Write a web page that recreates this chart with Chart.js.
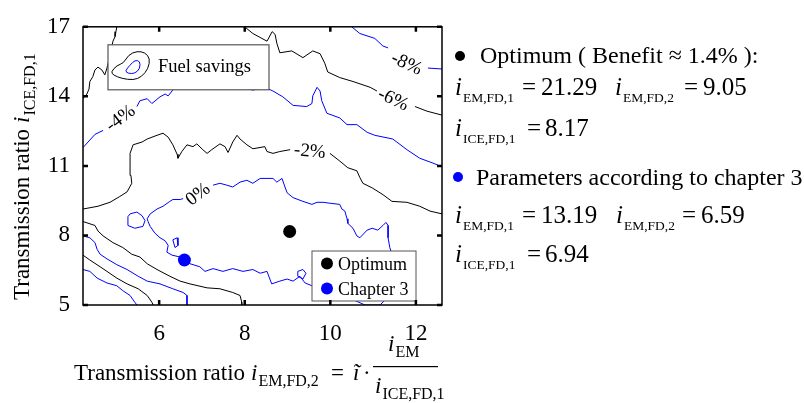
<!DOCTYPE html>
<html lang="en">
<head>
<meta charset="UTF-8">
<title>Fuel savings map</title>
<script src="https://cdn.jsdelivr.net/npm/chart.js"></script>
<style>
  html, body { margin: 0; padding: 0; background: #fff; }
  #wrap { position: relative; width: 804px; height: 403px; }
</style>
</head>
<body>
<div id="wrap"><canvas id="chart"></canvas></div>
<script>
// ticks
const xTicks = [6, 8, 10, 12];
const yTicks = [5, 8, 11, 14, 17];

// contour lines: [i_EM,FD,2, i_ICE,FD,1], null = gap for the label
const zeroMain = [[7.26,10.17],[7.42,10.25],[7.58,10.17],[7.72,10.09],[7.89,10.30],[8.05,10.38],[8.19,10.25],[8.36,10.46],[8.66,10.46],[8.75,10.30],[8.87,10.46],[8.94,10.09],[8.99,9.84],[9.13,9.63],[9.36,9.47],[9.57,9.34],[9.69,9.43],[9.83,9.43],[9.99,9.39],[10.22,9.34],[10.27,9.14],[10.34,9.05],[10.39,8.72],[10.41,8.52],[10.53,8.31],[10.62,7.98],[10.69,7.90],[10.86,8.23],[10.98,8.31],[11.11,8.23],[11.23,8.43],[11.30,8.56],[11.35,8.43],[11.35,7.90],[11.39,7.48],[11.44,7.19],[11.46,6.45],[11.39,5.41],[11.16,5.0],[10.81,5.0],[10.46,5.29],[9.99,5.62],[9.57,5.83],[9.41,5.95],[9.29,6.24],[9.13,6.03],[8.99,6.12],[8.82,6.03],[8.63,5.91],[8.52,6.45],[8.36,6.37],[8.19,6.53],[7.96,6.45],[7.72,6.57],[7.49,6.45],[7.26,6.57],[7.07,6.45],[6.95,6.65],[6.72,6.78],[6.49,7.07],[6.30,7.15],[6.18,7.28],[6.21,7.57],[6.14,7.77],[6.02,7.90],[5.90,8.10],[5.79,8.39],[5.74,8.60],[5.72,8.72],[5.79,8.93],[5.95,9.14],[6.09,9.26],[6.25,9.47],[6.32,9.55],[6.49,9.55],[6.56,9.59]];
const zeroLoopA = [[5.27,8.81],[5.32,8.93],[5.48,9.01],[5.60,8.85],[5.67,8.64],[5.62,8.39],[5.43,8.31],[5.27,8.43],[5.27,8.81]];
const zeroLoopB = [[6.32,7.81],[6.42,7.90],[6.44,7.57],[6.37,7.48],[6.32,7.81]];
const zeroLoopC = [[9.24,6.45],[9.36,6.53],[9.43,6.37],[9.36,6.12],[9.24,6.24],[9.24,6.45]];
const minus2Top = [[4.22,9.14],[4.57,9.26],[4.85,9.43],[5.08,9.68],[5.25,9.88],[5.36,10.25],[5.34,10.59],[5.32,11.21],[5.32,11.54],[5.39,11.91],[5.60,12.03],[5.72,12.16],[5.95,12.32],[6.09,12.41],[6.21,12.24],[6.32,11.91],[6.42,11.50],[6.44,11.33],[6.53,11.62],[6.65,11.91],[6.79,11.83],[6.88,11.95],[7.02,11.70],[7.12,11.54],[7.23,11.70],[7.42,11.95],[7.54,11.83],[7.61,11.58],[7.72,12.03],[7.82,12.32],[7.89,12.16],[8.05,11.91],[8.19,11.74],[8.47,11.83],[8.52,11.62],[8.66,11.54],[8.82,11.62],[9.06,11.70],null,[9.99,11.54],[10.22,11.21],[10.41,10.92],[10.62,10.79],[10.69,10.50],[10.76,10.25],[10.98,10.05],[11.23,9.76],[11.44,9.47],[11.79,9.43],[12.09,9.26],[12.33,9.05],[12.61,8.93]];
const minus2Low = [[4.22,8.60],[4.50,8.43],[4.57,8.19],[4.69,7.98],[4.92,7.69],[5.15,7.48],[5.36,7.19],[5.55,7.07],[5.72,6.78],[5.95,6.53],[6.25,6.24],[6.49,6.03],[6.72,5.91],[7.12,5.74],[7.42,5.70],[7.72,5.54],[7.89,5.41],[7.93,5.12],[7.93,5.0]];
const minus4Top = [[4.22,11.79],[4.50,12.36],[4.69,12.53],null,[5.48,13.56],[5.55,13.81],[5.72,13.90],[5.83,13.69],[6.02,13.98],[6.14,14.10],[6.21,14.02],[6.37,14.39],[6.90,14.45],[7.50,14.45],[7.93,14.39],[8.19,14.27],[8.47,14.39],[8.66,14.23],[8.89,13.98],[9.13,13.61],[9.45,13.56],[9.57,13.69],[9.59,14.02],[9.69,14.39],[9.76,14.23],[9.80,13.81],[9.92,13.27],[10.22,13.07],[10.39,12.78],[10.62,12.78],[10.86,12.45],[11.04,12.32],[11.46,12.16],[11.79,11.70],[12.09,11.33],[12.40,11.12],[12.61,10.96]];
const minus4Low = [[4.22,7.98],[4.38,7.90],[4.50,7.69],[4.55,7.40],[4.62,7.19],[4.78,6.99],[5.01,6.74],[5.25,6.53],[5.51,6.24],[5.72,6.03],[6.02,5.91],[6.32,5.70],[6.56,5.54],[6.65,5.41],[6.65,5.12],[6.65,5.0]];
const minus6Right = [[8.0,17.0],[8.05,16.92],[8.19,16.71],[8.36,16.54],[8.52,16.38],[8.64,16.79],[8.71,16.67],[8.75,16.29],[8.82,15.88],[9.10,15.96],[9.36,15.67],[9.59,15.96],[9.76,15.84],[9.87,15.43],[9.94,15.05],[10.22,14.81],[10.53,14.64],[10.93,14.39],[11.09,14.23],null,[11.98,13.56],[12.26,13.36],[12.61,13.19]];
const minus6Left = [[5.01,17.0],[4.99,16.79],[4.97,16.58],[4.92,16.38],[4.85,15.76],[4.78,15.22],[4.73,14.93],[4.66,15.14],[4.57,15.26],[4.50,15.14],[4.45,14.85],[4.38,14.64],[4.36,14.31],[4.31,14.10],[4.22,13.90]];
const minus6Low = [[4.22,7.15],[4.38,6.94],[4.62,6.65],[4.78,6.45],[5.01,6.16],[5.25,5.91],[5.51,5.70],[5.72,5.41],[5.83,5.12],[5.86,5.0]];
const minus8Top = [[10.50,17.0],[10.69,16.71],[11.04,16.50],[11.23,16.17],[11.35,16.09],null,[12.28,15.22],[12.61,15.18]];
const minus8Low = [[4.22,6.53],[4.38,6.45],[4.55,6.16],[4.78,5.95],[5.01,5.83],[5.15,5.62],[5.32,5.41],[5.43,5.12],[5.48,5.0]];

// contour labels
const labelText = ['0%', '-2%', '-4%', '-6%', '-8%'];
const labelX = [6.91, 9.52, 5.10, 11.47, 11.78];
const labelY = [9.76, 11.62, 13.04, 13.85, 15.40];

// the two marked designs
const optimum = [9.05, 8.17];
const chapter3 = [6.59, 6.94];

const BLUE = '#0000ff';
const SERIF = '"Liberation Serif", "Times New Roman", serif';

const toPts = arr => arr.map(p => p ? { x: p[0], y: p[1] } : { x: NaN, y: NaN });
const contour = (arr, color) => ({
    data: toPts(arr), showLine: true, borderColor: color, borderWidth: 1,
    pointRadius: 0, pointHoverRadius: 0, fill: false, spanGaps: false
});

const datasets = [
    contour(zeroMain, BLUE), contour(zeroLoopA, BLUE), contour(zeroLoopB, BLUE), contour(zeroLoopC, BLUE),
    contour(minus2Top, '#000'), contour(minus2Low, '#000'),
    contour(minus4Top, BLUE), contour(minus4Low, BLUE),
    contour(minus6Right, '#000'), contour(minus6Left, '#000'), contour(minus6Low, '#000'),
    contour(minus8Top, BLUE), contour(minus8Low, BLUE),
    { data: [{ x: optimum[0], y: optimum[1] }], pointRadius: 6.5, backgroundColor: '#000', borderWidth: 0 },
    { data: [{ x: chapter3[0], y: chapter3[1] }], pointRadius: 6.5, backgroundColor: BLUE, borderWidth: 0 }
];

// text helpers
function txt(ctx, s, x, y, size, italic) {
    ctx.font = (italic ? 'italic ' : '') + size + 'px ' + SERIF;
    ctx.fillText(s, x, y);
    return x + ctx.measureText(s).width;
}
function iSub(ctx, x, y, sub, size, subSize) {
    let cx = txt(ctx, 'i', x, y, size, true);
    return txt(ctx, sub, cx + 1, y + Math.round(size * 0.26), subSize, false);
}

const decor = {
    id: 'decor',
    afterDatasetsDraw(chart) {
        const ctx = chart.ctx, a = chart.chartArea;
        const xs = chart.scales.x, ys = chart.scales.y;
        ctx.save();
        ctx.fillStyle = '#000';
        ctx.textAlign = 'center';
        ctx.textBaseline = 'middle';
        const rot = [-38, 5, -37, 25, 25];
        labelText.forEach((t, i) => {
            ctx.save();
            ctx.translate(xs.getPixelForValue(labelX[i]), ys.getPixelForValue(labelY[i]));
            ctx.rotate(rot[i] * Math.PI / 180);
            ctx.font = '19px ' + SERIF;
            ctx.fillText(t, 0, 0);
            ctx.restore();
        });

        // "Fuel savings" box
        const bx = a.left + 25, by = a.top + 18;
        ctx.fillStyle = '#fff';
        ctx.fillRect(bx, by, 161, 45);
        ctx.strokeStyle = '#555';
        ctx.lineWidth = 1.2;
        ctx.strokeRect(bx, by, 161, 45);
        const blob = (pts, color) => {
            ctx.beginPath();
            const n = pts.length;
            const mid = (p, q) => [(p[0] + q[0]) / 2, (p[1] + q[1]) / 2];
            let m = mid(pts[n - 1], pts[0]);
            ctx.moveTo(bx + m[0], by + m[1]);
            for (let i = 0; i < n; i++) {
                const p = pts[i], q = mid(pts[i], pts[(i + 1) % n]);
                ctx.quadraticCurveTo(bx + p[0], by + p[1], bx + q[0], by + q[1]);
            }
            ctx.strokeStyle = color;
            ctx.lineWidth = 1;
            ctx.stroke();
        };
        blob([[3,27],[9,20.5],[15.5,18.5],[20.5,10],[29,6.3],[37,7.7],[42,13.7],[40.3,23.7],[33.7,32],[25.3,35.3],[13.7,33.7],[5.3,30.3]], '#000');
        blob([[17,26.3],[22,20.3],[27,15.3],[32,16.3],[32,23.7],[27,28.7],[20.3,28.7]], BLUE);
        ctx.fillStyle = '#000';
        ctx.textAlign = 'left';
        ctx.textBaseline = 'alphabetic';
        txt(ctx, 'Fuel savings', bx + 50, by + 27, 18.5);

        // marker legend box
        const lx = a.right - 130, ly = a.bottom - 54;
        ctx.fillStyle = '#fff';
        ctx.fillRect(lx, ly, 104, 50);
        ctx.strokeStyle = '#555';
        ctx.strokeRect(lx, ly, 104, 50);
        ctx.fillStyle = '#000';
        ctx.beginPath(); ctx.arc(lx + 15, ly + 12.5, 6, 0, Math.PI * 2); ctx.fill();
        ctx.fillStyle = BLUE;
        ctx.beginPath(); ctx.arc(lx + 15, ly + 37.5, 6, 0, Math.PI * 2); ctx.fill();
        ctx.fillStyle = '#000';
        txt(ctx, 'Optimum', lx + 26, ly + 19, 18);
        txt(ctx, 'Chapter 3', lx + 26, ly + 44, 18);

        // frame and inward ticks
        ctx.strokeStyle = '#000';
        ctx.lineWidth = 1.5;
        ctx.strokeRect(a.left, a.top, a.right - a.left, a.bottom - a.top);
        ctx.lineWidth = 2.5;
        ctx.beginPath();
        xTicks.forEach(v => {
            const px = xs.getPixelForValue(v);
            ctx.moveTo(px, a.bottom); ctx.lineTo(px, a.bottom - 5);
            ctx.moveTo(px, a.top); ctx.lineTo(px, a.top + 5);
        });
        yTicks.forEach(v => {
            const py = ys.getPixelForValue(v);
            ctx.moveTo(a.left, py); ctx.lineTo(a.left + 5, py);
            ctx.moveTo(a.right, py); ctx.lineTo(a.right - 5, py);
        });
        ctx.stroke();
        ctx.restore();
    },
    afterDraw(chart) {
        const ctx = chart.ctx;
        ctx.save();
        ctx.fillStyle = '#000';
        ctx.textAlign = 'left';
        ctx.textBaseline = 'alphabetic';

        // x axis title
        txt(ctx, 'Transmission ratio', 74, 380, 23);
        iSub(ctx, 251, 380, 'EM,FD,2', 23, 16);
        txt(ctx, '=', 331, 380, 23);
        txt(ctx, 'ĩ', 353, 380, 23, true);
        txt(ctx, '·', 363, 380, 23);
        iSub(ctx, 388, 351, 'EM', 23, 16);
        ctx.fillRect(373, 366, 65, 1.2);
        iSub(ctx, 375, 393, 'ICE,FD,1', 23, 16);

        // y axis title
        ctx.save();
        ctx.translate(29, 300);
        ctx.rotate(-Math.PI / 2);
        const ex = txt(ctx, 'Transmission ratio', 0, 0, 23);
        iSub(ctx, ex + 6, 0, 'ICE,FD,1', 23, 16);
        ctx.restore();

        // side notes
        ctx.beginPath(); ctx.arc(460, 56, 5, 0, Math.PI * 2); ctx.fill();
        txt(ctx, 'Optimum ( Benefit ≈ 1.4% ):', 480, 63, 24);
        iSub(ctx, 455, 95, 'EM,FD,1', 25, 13.5);
        txt(ctx, '=', 522, 95, 25);
        txt(ctx, '21.29', 541, 95, 25);
        iSub(ctx, 615, 95, 'EM,FD,2', 25, 13.5);
        txt(ctx, '=', 684, 95, 25);
        txt(ctx, '9.05', 703, 95, 25);
        iSub(ctx, 455, 136, 'ICE,FD,1', 25, 13.5);
        txt(ctx, '=', 527, 136, 25);
        txt(ctx, '8.17', 545, 136, 25);

        ctx.fillStyle = BLUE;
        ctx.beginPath(); ctx.arc(458, 177, 5, 0, Math.PI * 2); ctx.fill();
        ctx.fillStyle = '#000';
        txt(ctx, 'Parameters according to chapter 3', 476, 185, 24);
        iSub(ctx, 455, 223, 'EM,FD,1', 25, 13.5);
        txt(ctx, '=', 522, 223, 25);
        txt(ctx, '13.19', 541, 223, 25);
        iSub(ctx, 616, 223, 'EM,FD,2', 25, 13.5);
        txt(ctx, '=', 682, 223, 25);
        txt(ctx, '6.59', 701, 223, 25);
        iSub(ctx, 455, 262, 'ICE,FD,1', 25, 13.5);
        txt(ctx, '=', 527, 262, 25);
        txt(ctx, '6.94', 545, 262, 25);
        ctx.restore();
    }
};

new Chart(document.getElementById('chart'), {
    type: 'scatter',
    data: { datasets: datasets },
    options: {
        responsive: true,
        maintainAspectRatio: false,
        animation: false,
        layout: { padding: { top: 15, right: 362, left: 0, bottom: 0 } },
        plugins: { legend: { display: false }, tooltip: { enabled: false } },
        elements: { line: { tension: 0 } },
        scales: {
            x: {
                type: 'linear', min: 4.22, max: 12.61,
                afterBuildTicks: s => { s.ticks = xTicks.map(v => ({ value: v })); },
                afterFit: s => { s.height = 98; },
                grid: { display: false, drawTicks: false },
                border: { display: false },
                ticks: { color: '#000', font: { family: SERIF, size: 23 }, padding: 15, maxRotation: 0 }
            },
            y: {
                type: 'linear', min: 5, max: 17,
                afterBuildTicks: s => { s.ticks = yTicks.map(v => ({ value: v })); },
                afterFit: s => { s.width = 83; },
                grid: { display: false, drawTicks: false },
                border: { display: false },
                ticks: { color: '#000', font: { family: SERIF, size: 23 }, padding: 13 }
            }
        }
    },
    plugins: [decor]
});
</script>
</body>
</html>
